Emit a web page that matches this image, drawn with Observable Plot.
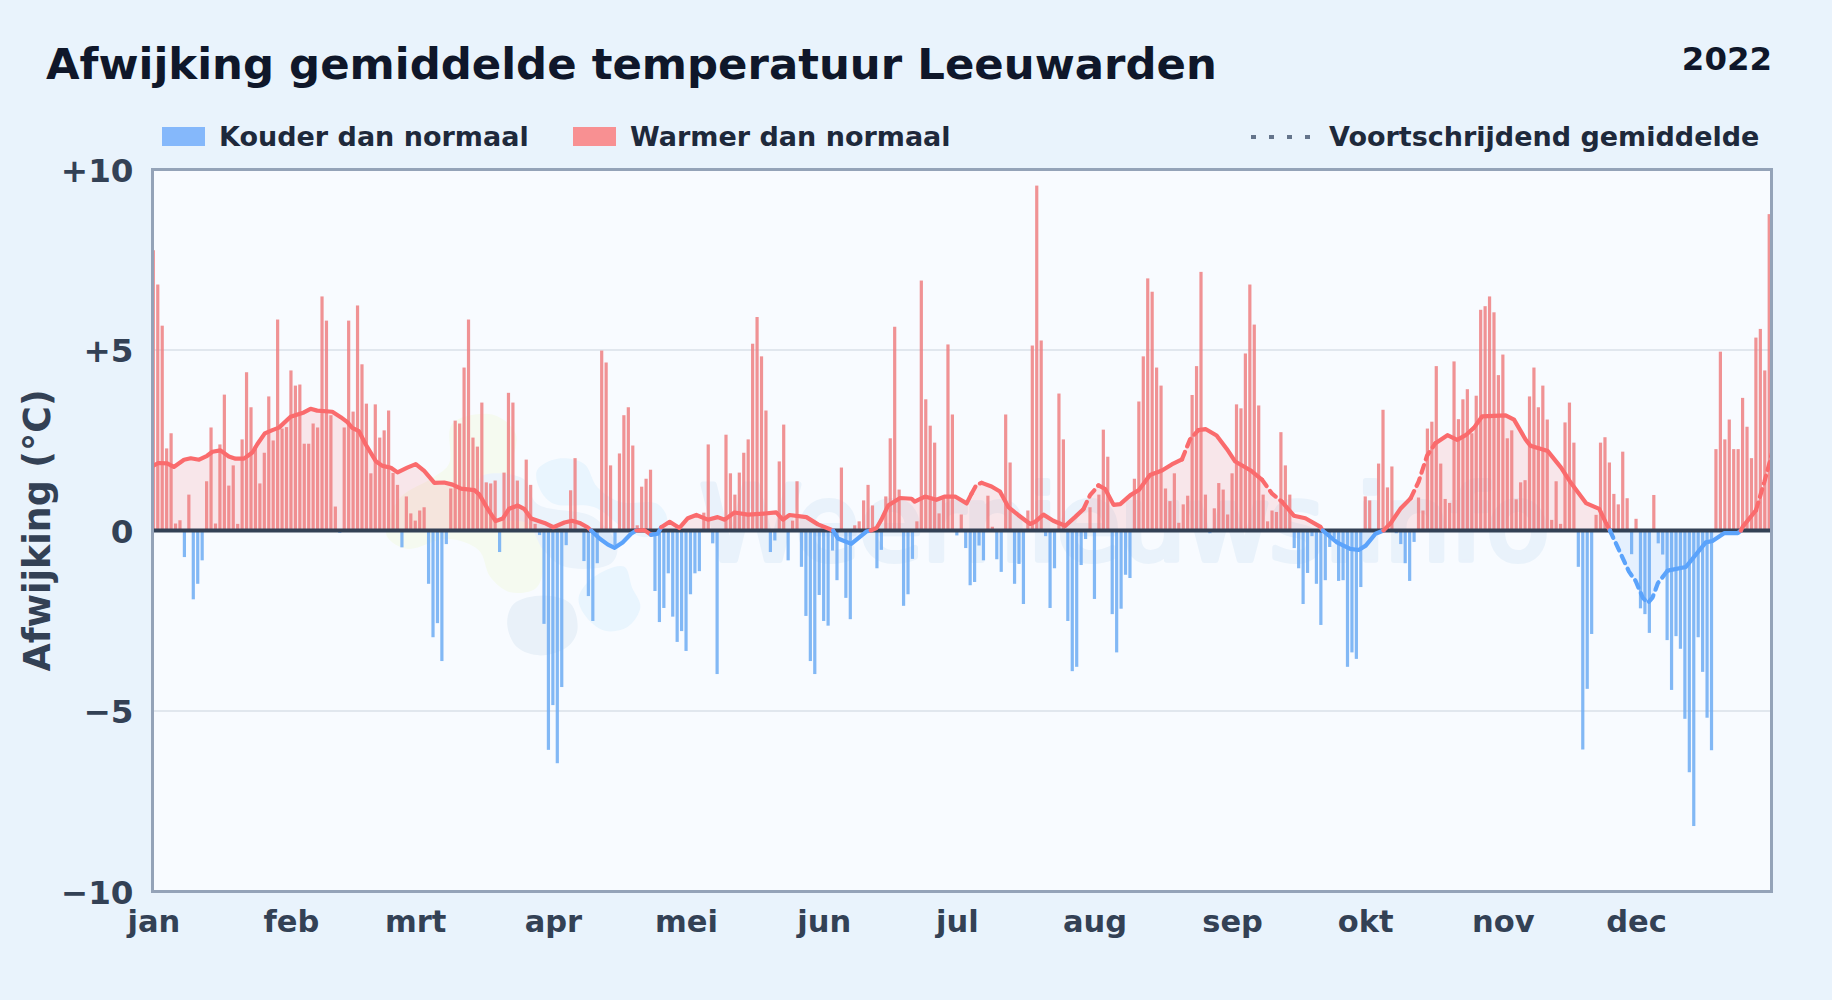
<!DOCTYPE html>
<html lang="nl">
<head>
<meta charset="utf-8">
<title>Afwijking gemiddelde temperatuur Leeuwarden</title>
<script src="https://cdn.jsdelivr.net/npm/d3@7"></script>
<script src="https://cdn.jsdelivr.net/npm/@observablehq/plot@0.6"></script>
<style>
  html,body{margin:0;padding:0;width:1832px;height:1000px;overflow:hidden;background:#e9f3fc;font-family:"DejaVu Sans",sans-serif;font-weight:700}
  .t{position:absolute;white-space:nowrap;line-height:1}
  #chart{position:absolute;left:0;top:150px}
  .sw{position:absolute;width:43px;height:19px;top:127px}
</style>
</head>
<body>
<div class="t" style="left:46px;top:43px;font-size:43.4px;color:#0f172a">Afwijking gemiddelde temperatuur Leeuwarden</div>
<div class="t" style="right:60px;top:43px;font-size:32.4px;color:#0f172a">2022</div>
<div class="sw" style="left:162px;background:#85b8fb"></div>
<div class="t" style="left:219px;top:123px;font-size:27px;color:#1e293b">Kouder dan normaal</div>
<div class="sw" style="left:573px;background:#f89092"></div>
<div class="t" style="left:630px;top:123px;font-size:27px;color:#1e293b">Warmer dan normaal</div>
<div style="position:absolute;left:1251px;top:135px;width:60px;height:4px;background:repeating-linear-gradient(90deg,#64748b 0 5px,transparent 5px 18px)"></div>
<div class="t" style="left:1329px;top:123px;font-size:27px;color:#1e293b">Voortschrijdend gemiddelde</div>
<div id="chart"></div>
<script>
const monthNames = ["jan","feb","mrt","apr","mei","jun","jul","aug","sep","okt","nov","dec"];
const monthStarts = [0,31,59,90,120,151,181,212,243,273,304,334];
const yTicks = [-10,-5,0,5,10];

// Daily deviation (°C), one value per day of 2022
const janFebMar = [7.75,6.8,5.66,2.26,2.68,.18,.27,-.75,.98,-1.92,-1.49,-.84,1.35,2.84,.18,2.37,3.75,1.23,1.79,.17,2.51,4.37,3.4,2.33,1.29,2.14,3.7,2.48,5.83,2.81,2.85,
  4.42,4.0,4.03,2.39,2.39,2.95,2.84,6.47,5.8,3.18,.65,-.08,2.84,5.8,3.28,6.22,4.59,3.5,1.57,3.48,2.56,2.76,3.31,1.58,1.25,-.48,.93,.46,
  .26,.54,.63,-1.49,-2.97,-2.58,-3.63,-.39,1.15,3.03,2.95,4.5,5.83,2.56,2.31,3.53,1.32,1.29,1.37,-.61,1.59,3.8,3.53,1.37,0,1.95,1.25,.17,-.14,-2.6,-6.09];
const aprMeiJun = [-4.85,-6.46,-4.35,-.42,1.1,1.99,0,-.86,-1.83,-2.52,-.92,4.97,4.64,1.79,-.42,2.12,3.18,3.4,2.34,.13,1.2,1.42,1.67,-1.69,-2.55,-2.16,-1.2,-2.4,-3.1,-2.8,
  -3.35,-1.78,-1.2,-1.14,.48,2.37,-.37,-3.99,0,2.64,1.57,.98,1.59,2.14,2.51,5.16,5.9,4.81,3.31,-.61,-.29,1.9,2.92,-.84,.26,1.35,-1.02,-2.38,-3.63,-3.99,-1.8,
  -2.52,-2.65,-.57,-1.39,1.73,-1.88,-2.47,.13,.24,.82,1.25,.68,-1.06,-.55,.93,2.54,5.63,1.12,-2.1,-1.78,-.8,.24,6.91,3.62,2.89,2.42,.46,.88,5.14,3.2];
const julAugSep = [-.15,.43,-.5,-1.53,-1.44,-.43,-.84,.95,.09,-.81,-1.16,3.2,1.87,-1.49,-.94,-2.05,.54,5.11,9.54,5.25,-.17,-2.16,-1.06,3.78,2.51,-2.52,-3.91,-3.79,-.97,-.25,.63,
  -1.91,.98,2.78,2.03,-2.33,-3.39,-2.18,-1.24,-1.33,1.42,3.56,4.81,6.97,6.6,4.5,4.0,1.15,.8,1.57,.2,.71,.95,3.74,4.54,7.15,.98,-.09,.6,1.3,1.12,
  .43,1.57,3.48,3.37,4.89,6.8,5.69,3.45,.98,.24,.54,.5,2.71,1.79,.98,-.5,-1.06,-2.05,-1.19,-.17,-1.49,-2.63,-1.39,-.47,-.22,-1.41,-1.39,-3.79,-3.39,-3.57,-1.58];
const oktNovDec = [.93,.82,0,1.84,3.33,1.18,1.76,-.09,-.39,-.92,-1.41,-.33,.9,.54,2.81,3.0,4.54,1.84,.86,.75,4.67,3.07,3.62,3.9,2.68,3.72,6.1,6.2,6.47,6.03,4.29,
  4.86,2.54,2.76,.85,1.32,1.38,3.7,4.5,3.4,4.0,3.06,.28,1.35,.17,2.98,3.53,2.42,-1.02,-6.08,-4.4,-2.88,.42,2.42,2.57,1.87,1.0,.71,2.17,.88,-.67,.31,-2.17,-2.33,-2.85,.97,
  -.37,-.68,-3.05,-4.43,-2.94,-3.29,-5.23,-6.71,-8.2,-2.97,-3.93,-5.2,-6.1,2.24,4.94,2.51,3.06,2.24,2.24,3.66,2.86,1.99,5.33,5.57,4.42,8.75];
const daily = [...janFebMar,...aprMeiJun,...julAugSep,...oktNovDec];

// Moving average: day of year, value
const avgDays = [0,1,3,4.5,6.8,8.3,10.2,12,13.2,15,16.9,18.4,20.3,22.2,23.3,25,26.7,28.2,30.8,33.8,35.3,36.8,40.2,42.1,43.6,44.7,46.2,47.7,50,51.5,53.4,54.9,57.1,59,60.9,63.2,65.4,67.3,69.2,72.2,73.3,75.2,77,78.6,80,82,83.5,85,88,90,92.5,94.2,95.9,97.7,98.5,100.4,102.3,103.8,105.6,107.5,108.7,110.5,112,113.5,114.3,116.2,118.4,120.3,122.2,124.8,127,128.6,130.8,133.8,137.6,140.2,141.7,143.2,147,149.6,152.2,153,154.1,157.1,160.5,161.5,162.8,163.9,165.4,168.1,170.7,171.4,173.7,176.3,178.2,180.5,183.1,184.2,185.3,186.5,188.7,190.6,192.5,194.7,197.4,198.5,200.4,202.6,205.3,207.5,209.4,210.9,212.8,214.3,216.2,217.7,220,221.9,224.4,227.1,229.3,231.6,233.4,235.3,236.9,239.4,241.7,243.6,247,249.6,251.9,254.1,256.8,259.4,262.8,263.3,266.5,269.5,271.4,273,275.2,277,278.6,280.8,283.1,284.9,286.8,288.7,291.4,293.6,295.5,297.4,299.2,304.5,306.4,309,310.1,314,317,319.2,322.6,325.6,327,328,332.3,333.8,335.4,336.5,337.6,338.8,341,345.1,349.6,351.1,353.8,356.8,357.5,357.9,360.9,362.8,364.5];
const avgValues = [1.8,1.87,1.86,1.76,1.96,2,1.96,2.07,2.18,2.22,2.05,1.99,1.99,2.16,2.39,2.69,2.78,2.85,3.15,3.27,3.37,3.32,3.29,3.14,3,2.84,2.75,2.39,1.92,1.79,1.74,1.61,1.74,1.84,1.65,1.32,1.33,1.27,1.16,1.12,1,.6,.26,.33,.6,.69,.59,.33,.21,.09,.22,.27,.21,.09,0,-.22,-.39,-.48,-.33,-.09,0,.01,-.12,-.09,.09,.24,.07,.34,.43,.3,.37,.3,.5,.44,.47,.5,.3,.43,.37,.17,.04,0,-.22,-.37,-.03,0,.07,.3,.69,.9,.88,.8,.94,.85,.94,.94,.75,1.02,1.27,1.32,1.22,1.08,.65,.43,.18,.24,.44,.27,.13,.37,.59,.98,1.25,1.15,.71,.73,.98,1.12,1.54,1.66,1.83,1.97,2.52,2.78,2.81,2.63,2.26,1.91,1.67,1.41,1.02,.8,.41,.34,.1,0,-.33,-.51,-.54,-.42,-.09,0,.2,.6,.89,1.35,2.07,2.42,2.64,2.51,2.64,2.85,3.16,3.19,3.07,2.52,2.35,2.2,1.74,1.32,.76,.6,.24,0,-1.14,-1.4,-1.86,-2.01,-1.86,-1.46,-1.11,-1.01,-.33,-.29,-.07,-.07,0,.1,.56,1.35,2.13];
// Stretches of the moving average that are drawn dashed: first day, last day
const dashedFrom = [184.2,209.4,231.6,249.6,283.1,328,360.9];
const dashedTo   = [186.5,212.8,235.3,254.1,288.7,341,364.5];

// Faint logo shapes of the watermark: day, value
const logoGreen = [[67.2,2.95],[76.2,3.21],[81.5,2.68],[80.7,1.57],[85.6,.65],[87.8,-.55],[86.3,-1.57],[80.3,-1.71],[75.8,-1.29],[73.2,-.55],[66.1,-.23],[57.1,-.51],[52.6,-.18],[52.6,.19],[55.6,.92],[63.1,1.48],[66.5,1.85]];
const logoSky = [[86.3,1.66],[90.9,1.99],[96.9,1.85],[99.9,1.2],[105.1,.79],[113.4,.74],[115.6,.28],[111.1,-.18],[106.6,0],[99.1,.65],[90.1,.74],[87.1,1.11]];
const logoMid = [[73.6,1.48],[83.3,1.43],[86.3,.74],[99.1,.37],[104.4,-.46],[102.9,-.92],[92.4,-1],[87.8,-.55],[84.1,.19],[75.8,.37]];
const logoLow = [[79.6,-2.59],[81.1,-2.03],[87.8,-1.8],[93.9,-2.03],[95.4,-2.77],[93.1,-3.23],[87.1,-3.46],[81.8,-3.23]];
const logoRight = [[95.7,-1.85],[99.1,-1.29],[105.9,-1],[107.7,-1.57],[109.6,-2.12],[106.6,-2.68],[101.4,-2.77],[96.9,-2.31]];

const days = daily.map((v,d)=>({d,v}));
const avg = avgDays.map((d,i)=>({d,v:avgValues[i],next:avgValues[i+1]}));
const inside = d => dashedFrom.some((a,i)=>d>a && d<dashedTo[i]);
const onDash = d => dashedFrom.some((a,i)=>d>=a && d<=dashedTo[i]);
const lineColor = d => (d.v || d.next || 0) >= 0 ? "#fa6b6d" : "#5ba3fb";
const blob = (pts,fill) => Plot.line(pts,{x:p=>p[0],y:p=>p[1],fill,stroke:"none",curve:"catmull-rom-closed"});

const plot = Plot.plot({
  width:1832, height:850,
  marginLeft:152, marginRight:61, marginTop:19, marginBottom:109,
  x:{type:"linear",domain:[-.3,364.4]},
  y:{domain:[-10,10]},
  style:{background:"transparent",fontFamily:"'DejaVu Sans',sans-serif",overflow:"visible"},
  marks:[
    Plot.frame({fill:"#f8fbff",stroke:"none"}),
    Plot.gridY([-5,5],{stroke:"#e1e7ee",strokeOpacity:1,strokeWidth:2}),
    blob(logoGreen,"#f5faf0"), blob(logoSky,"#e9f5fe"), blob(logoMid,"#ebf3fb"), blob(logoLow,"#e9f1f9"), blob(logoRight,"#e9f5fe"),
    Plot.text(["Weernieuws.info"],{x:()=>218.7,y:()=>.1,text:d=>d,fontSize:103,fontWeight:400,fill:"#e9f2fb",stroke:"#e9f2fb",strokeWidth:6}),
    Plot.areaY(avg,{x:"d",y1:()=>0,y2:d=>Math.max(d.v,0),fill:"#f87171",fillOpacity:.15}),
    Plot.areaY(avg,{x:"d",y1:()=>0,y2:d=>Math.min(d.v,0),fill:"#60a5fa",fillOpacity:.12}),
    Plot.rect(days,{x1:d=>d.d-.36,x2:d=>d.d+.36,y1:()=>0,y2:"v",fill:d=>d.v>=0?"#ef7f81":"#6dabf3",fillOpacity:.85,clip:"frame"}),
    Plot.ruleY([0],{stroke:"#334155",strokeWidth:4}),
    Plot.line(avg,{x:"d",y:d=>inside(d.d)?NaN:d.v,z:null,stroke:lineColor,strokeWidth:4.2,clip:"frame"}),
    Plot.line(avg,{x:"d",y:d=>onDash(d.d)?d.v:NaN,z:null,stroke:lineColor,strokeWidth:4.2,strokeDasharray:"8 6",clip:"frame"}),
    Plot.frame({stroke:"#94a3b8",strokeWidth:3}),
    Plot.axisY({ticks:yTicks,tickSize:0,tickPadding:19,fontSize:32.6,fontWeight:700,fill:"#334155",label:null,dy:2,
      tickFormat:v=>v>0?"+"+v:v<0?"\u2212"+(-v):"0"}),
    Plot.axisX({ticks:monthStarts,tickSize:0,tickPadding:19,fontSize:30.5,fontWeight:700,fill:"#334155",label:null,
      tickFormat:d=>monthNames[monthStarts.indexOf(d)]}),
    Plot.text(["Afwijking (°C)"],{frameAnchor:"left",textAnchor:"middle",rotate:-90,dx:-114,fontSize:36.4,fontWeight:700,fill:"#334155"})
  ]
});
document.getElementById("chart").appendChild(plot);
</script>
</body>
</html>
